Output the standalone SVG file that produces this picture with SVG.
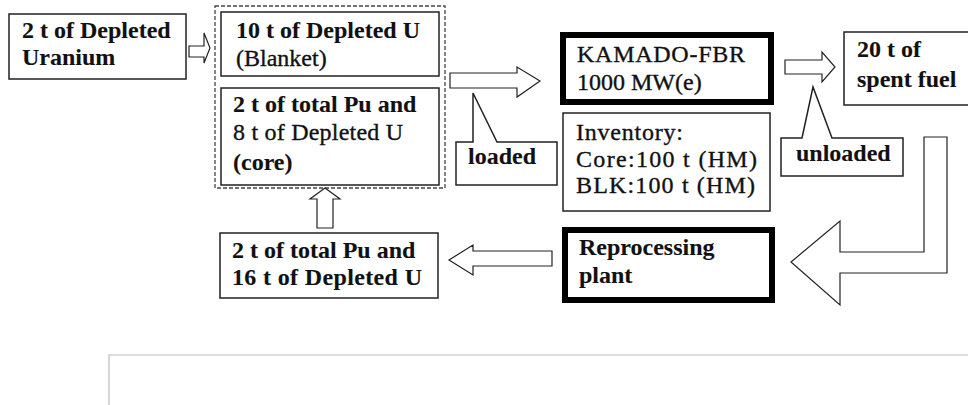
<svg xmlns="http://www.w3.org/2000/svg" width="968" height="405" viewBox="0 0 968 405">
<style>
  text { font-family: "Liberation Serif", "Times New Roman", serif; font-size: 24px; fill: #111; stroke: #111; stroke-width: 0.35; }
  .b { font-weight: bold; stroke-width: 0.1; }
  .box { fill: #fff; stroke: #222; stroke-width: 1.5; }
  .thick { fill: #fff; stroke: #000; stroke-width: 6; }
  .arrow { fill: #fff; stroke: #222; stroke-width: 1.2; stroke-linejoin: miter; }
  .dash { fill: none; stroke: #444; stroke-width: 1.3; stroke-dasharray: 4 2; }
</style>
<rect width="968" height="405" fill="#fff"/>

<g id="node-depleted-uranium">
  <rect class="box" x="9" y="14" width="177" height="65"/>
  <text class="b" x="22" y="38">2 t of Depleted</text>
  <text class="b" x="22" y="65">Uranium</text>
</g>

<g id="node-fuel-group">
  <rect class="dash" x="215" y="6" width="230" height="182"/>
  <g id="node-blanket">
    <rect class="box" x="221" y="12" width="218" height="64"/>
    <text class="b" x="236" y="38">10 t of Depleted U</text>
    <text x="236" y="66">(Blanket)</text>
  </g>
  <g id="node-core">
    <rect class="box" x="221" y="88" width="218" height="97"/>
    <text class="b" x="233" y="112">2 t of total Pu and</text>
    <text x="233" y="140" textLength="170" lengthAdjust="spacing">8 t of Depleted U</text>
    <text class="b" x="233" y="170">(core)</text>
  </g>
</g>

<g id="node-kamado">
  <rect class="thick" x="563" y="35" width="208" height="67"/>
  <text x="577" y="62" textLength="168" lengthAdjust="spacing">KAMADO-FBR</text>
  <text x="577" y="90">1000 MW(e)</text>
</g>

<g id="node-inventory">
  <rect class="box" x="563" y="113" width="207" height="98"/>
  <text x="576" y="140" textLength="107" lengthAdjust="spacing">Inventory:</text>
  <text x="576" y="167" textLength="181" lengthAdjust="spacing">Core:100 t (HM)</text>
  <text x="576" y="193" textLength="179" lengthAdjust="spacing">BLK:100 t (HM)</text>
</g>

<g id="node-spent-fuel">
  <rect class="box" x="844" y="32" width="130" height="73"/>
  <text class="b" x="857" y="57">20 t of</text>
  <text class="b" x="857" y="87">spent fuel</text>
</g>

<g id="node-reprocessing">
  <rect class="thick" x="565" y="230" width="207" height="70"/>
  <text class="b" x="579" y="255">Reprocessing</text>
  <text class="b" x="579" y="283">plant</text>
</g>

<g id="node-recovered">
  <rect class="box" x="220" y="233" width="218" height="65"/>
  <text class="b" x="232" y="258">2 t of total Pu and</text>
  <text class="b" x="232" y="285" textLength="190" lengthAdjust="spacing">16 t of Depleted U</text>
</g>

<g id="label-loaded">
  <polygon class="box" points="456,142 473,142 473,93 497,142 557,142 557,185 456,185"/>
  <text class="b" x="468" y="164">loaded</text>
</g>

<g id="label-unloaded">
  <polygon class="box" points="781,138 802,138 813,87 832,138 903,138 903,176 781,176"/>
  <text class="b" x="796" y="161">unloaded</text>
</g>

<g id="connectors">
  <polygon class="arrow" points="189,46 204,46 204,33 210,48 204,63 204,57 189,57"/>
  <polygon class="arrow" points="450,73 517,73 517,67 540,81 517,97 517,88 450,88"/>
  <polygon class="arrow" points="785,60 822,60 822,52 835,67 822,82 822,74 785,74"/>
  <polygon class="arrow" points="924,137 947,137 947,273 840,273 840,305 791,262 840,221 840,252 924,252"/>
  <polygon class="arrow" points="552,251 473,251 473,245 449,260 473,275 473,266 552,266"/>
  <polygon class="arrow" points="317,228 317,199 310,199 325,188 340,199 333,199 333,228"/>
</g>

<polyline points="109,405 109,355 968,355" fill="none" stroke="#bdbdbd" stroke-width="1.2"/>
</svg>
